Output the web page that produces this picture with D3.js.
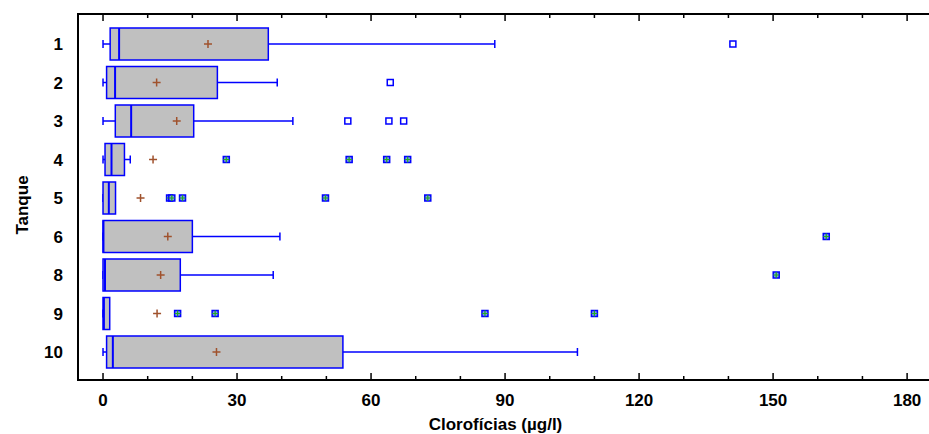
<!DOCTYPE html>
<html><head><meta charset="utf-8">
<script src="https://cdn.jsdelivr.net/npm/d3@7"></script>
<style>body{margin:0;background:#fff}svg{display:block}text{font-family:"Liberation Sans",Arial,sans-serif;font-weight:bold}</style>
</head><body><svg id="c" width="929" height="434"></svg>
<script>
const categories = ["1","2","3","4","5","6","8","9","10"];
const whiskerLow  = [0, 0, 0, 0, 0, 0, 0, 0, 0];
const q1          = [1.6, 0.8, 2.75, 0.45, 0, 0, 0, 0, 0.8];
const medians     = [3.6, 2.7, 6.3, 1.9, 1.3, 0.1, 0.45, 0.2, 2.2];
const q3          = [37.0, 25.6, 20.3, 4.8, 2.8, 20.0, 17.3, 1.5, 53.7];
const whiskerHigh = [87.7, 39.0, 42.5, 6.1, 2.8, 39.6, 38.1, 1.5, 106.2];
const means       = [23.5, 12.0, 16.5, 11.2, 8.4, 14.5, 12.9, 12.1, 25.4];
const nearOutliers = [[141.0],[64.3],[54.8,64.0,67.3],[],[],[],[],[],[]];
const farOutliers  = [[],[],[],[27.6,55.1,63.5,68.2],[14.9,15.4,17.8,49.8,72.7],[161.9],[150.7],[16.7,25.1,85.5,110.0],[]];
const xTicks = [0,30,60,90,120,150,180];
const xMinorTicks = d3.range(0,190,10);
const xTitle = "Clorofícias (µg/l)";
const yTitle = "Tanque";

const svg = d3.select("#c");
const L = 78, R = 929, T = 14, B = 380;
const x = d3.scaleLinear().domain([-5.6, 184.9]).range([L, R]);
const y = d3.scalePoint().domain(categories).range([44, 352]);
const bh = 32, blue = "#0000ff";

// frame
svg.append("path").attr("d", `M${R},${T}H${L}V${B}H${R}`).attr("fill","none").attr("stroke","#000").attr("stroke-width",2);
// ticks
xMinorTicks.forEach(v => {
  const major = v % 30 === 0, len = major ? 7 : 4;
  svg.append("line").attr("x1",x(v)).attr("x2",x(v)).attr("y1",T).attr("y2",T+len).attr("stroke","#000").attr("stroke-width",1.5);
  svg.append("line").attr("x1",x(v)).attr("x2",x(v)).attr("y1",B).attr("y2",B-len).attr("stroke","#000").attr("stroke-width",1.5);
});
svg.append("g").selectAll("text").data(xTicks).join("text")
  .attr("x", d => x(d)).attr("y", 406).attr("text-anchor","middle").attr("font-size",17).text(d => d);
svg.append("g").selectAll("text").data(categories).join("text")
  .attr("x", 63).attr("y", d => y(d) + 6).attr("text-anchor","end").attr("font-size",17).text(d => d);
svg.append("text").attr("x", (L+R)/2 - 8).attr("y", 430).attr("text-anchor","middle").attr("font-size",17).text(xTitle);
svg.append("text").attr("transform","translate(28,205) rotate(-90)").attr("text-anchor","middle").attr("font-size",17).text(yTitle);

categories.forEach((c, i) => {
  const cy = y(c);
  const g = svg.append("g");
  if (q1[i] > whiskerLow[i]) {
    g.append("line").attr("x1",x(whiskerLow[i])).attr("x2",x(q1[i])).attr("y1",cy).attr("y2",cy).attr("stroke",blue).attr("stroke-width",1.5);
  }
  g.append("line").attr("x1",x(whiskerLow[i])).attr("x2",x(whiskerLow[i])).attr("y1",cy-4).attr("y2",cy+4).attr("stroke",blue).attr("stroke-width",1.5);
  if (whiskerHigh[i] > q3[i]) {
    g.append("line").attr("x1",x(q3[i])).attr("x2",x(whiskerHigh[i])).attr("y1",cy).attr("y2",cy).attr("stroke",blue).attr("stroke-width",1.5);
    g.append("line").attr("x1",x(whiskerHigh[i])).attr("x2",x(whiskerHigh[i])).attr("y1",cy-4).attr("y2",cy+4).attr("stroke",blue).attr("stroke-width",1.5);
  }
  g.append("rect").attr("x",x(q1[i])).attr("y",cy-bh/2).attr("width",x(q3[i])-x(q1[i])).attr("height",bh)
    .attr("fill","#c0c0c0").attr("stroke",blue).attr("stroke-width",1.5);
  g.append("line").attr("x1",x(medians[i])).attr("x2",x(medians[i])).attr("y1",cy-bh/2).attr("y2",cy+bh/2).attr("stroke",blue).attr("stroke-width",2);
  const mx = x(means[i]);
  g.append("path").attr("d",`M${mx-4},${cy}H${mx+4}M${mx},${cy-4}V${cy+4}`).attr("stroke","#a0522d").attr("stroke-width",1.5);
  nearOutliers[i].forEach(v => {
    g.append("rect").attr("x",x(v)-3).attr("y",cy-3).attr("width",6).attr("height",6).attr("fill","none").attr("stroke",blue).attr("stroke-width",1.5);
  });
  farOutliers[i].forEach(v => {
    const ox = x(v);
    g.append("rect").attr("x",ox-3).attr("y",cy-3).attr("width",6).attr("height",6).attr("fill","#7f9be8").attr("stroke",blue).attr("stroke-width",1.5);
    g.append("path").attr("d",`M${ox-3},${cy}H${ox+3}M${ox},${cy-3}V${cy+3}`).attr("stroke","#22aa22").attr("stroke-width",1.2);
  });
});
</script></body></html>
